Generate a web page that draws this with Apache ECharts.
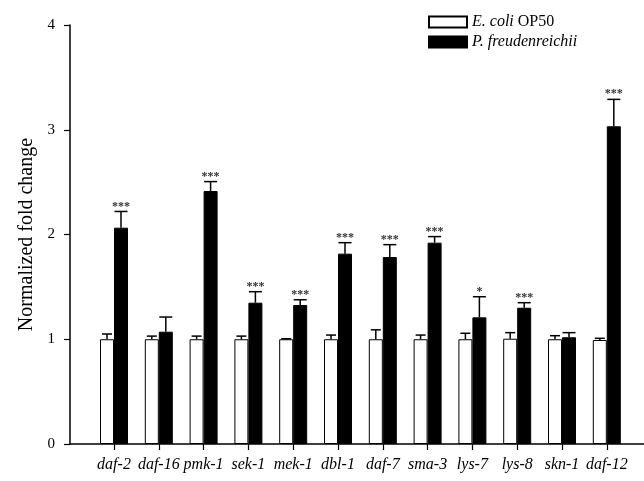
<!DOCTYPE html>
<html>
<head>
<meta charset="utf-8">
<script src="https://cdn.jsdelivr.net/npm/echarts@6/dist/echarts.min.js"></script>
<style>
html,body{margin:0;padding:0;background:#fff;}
#chart{width:644px;height:481px;}
</style>
</head>
<body>
<div id="chart"></div>
<script>
var categories = ['daf-2','daf-16','pmk-1','sek-1','mek-1','dbl-1','daf-7','sma-3','lys-7','lys-8','skn-1','daf-12'];
var ecoli = [1.0, 1.0, 1.0, 1.0, 1.0, 1.0, 1.0, 1.0, 1.0, 1.005, 1.0, 0.993];
var ecoliErr = [0.05, 0.03, 0.03, 0.03, 0.005, 0.04, 0.09, 0.04, 0.057, 0.058, 0.034, 0.016];
var pfreud = [2.065, 1.072, 2.415, 1.349, 1.327, 1.817, 1.785, 1.922, 1.209, 1.301, 1.019, 3.033];
var pfreudErr = [0.155, 0.14, 0.09, 0.105, 0.05, 0.105, 0.118, 0.058, 0.197, 0.048, 0.044, 0.257];
var significance = ['***', '', '***', '***', '***', '***', '***', '***', '*', '***', '', '***'];
var yTicks = [0, 1, 2, 3, 4];
var seriesNames = ['E. coli OP50', 'P. freudenreichii'];

var FONT = 'Liberation Serif';
var BAR_W = 14;

function errorSeries(name, values, errs, offsetSign, capHalf, labels) {
  return {
    type: 'custom',
    name: name,
    xAxisIndex: 0,
    yAxisIndex: 0,
    z: 5,
    data: values.map(function (v, i) { return [i, v, errs[i]]; }),
    renderItem: function (params, api) {
      var i = api.value(0), v = api.value(1), e = api.value(2);
      var base = api.coord([i, v]);
      var top = api.coord([i, v + e]);
      var x = base[0] + offsetSign * BAR_W / 2;
      var children = [
        { type: 'line', shape: { x1: x, y1: base[1], x2: x, y2: top[1] }, style: { stroke: '#000', lineWidth: 1.5 } },
        { type: 'line', shape: { x1: x - capHalf, y1: top[1], x2: x + capHalf, y2: top[1] }, style: { stroke: '#000', lineWidth: 1.5 } }
      ];
      if (labels && labels[params.dataIndex]) {
        children.push({
          type: 'text',
          style: {
            text: labels[params.dataIndex], x: x, y: top[1] + 1,
            textAlign: 'center', textVerticalAlign: 'bottom',
            font: 'bold 12px "' + FONT + '"', fill: '#333'
          }
        });
      }
      return { type: 'group', children: children };
    }
  };
}

var chart = echarts.init(document.getElementById('chart'));
chart.setOption({
  animation: false,
  backgroundColor: '#fff',
  grid: [
    { left: 91.6, right: 14.8, top: 25, bottom: 37 },
    { left: 70, right: 0, top: 25, bottom: 37 }
  ],
  legend: {
    data: seriesNames,
    orient: 'vertical',
    left: 423,
    top: 8,
    itemWidth: 38,
    itemHeight: 11,
    itemGap: 2,
    icon: 'rect',
    formatter: function (n) {
      return n === seriesNames[0] ? '{i|E. coli} {n|OP50}' : '{i|P. freudenreichii}';
    },
    textStyle: {
      fontFamily: FONT, fontSize: 16, color: '#000', lineHeight: 18,
      rich: {
        i: { fontFamily: FONT, fontSize: 16, fontStyle: 'italic', color: '#000', lineHeight: 18 },
        n: { fontFamily: FONT, fontSize: 16, color: '#000', lineHeight: 18 }
      }
    }
  },
  xAxis: [
    {
      type: 'category', gridIndex: 0, data: categories,
      axisLine: { show: false },
      axisTick: { show: true, alignWithLabel: true, length: 6, lineStyle: { color: '#000', width: 1.2 } },
      axisLabel: { fontFamily: FONT, fontSize: 16, fontStyle: 'italic', color: '#000', margin: 13, interval: 0 },
      splitLine: { show: false }
    },
    {
      type: 'value', gridIndex: 1, min: 0, max: 1,
      axisLine: { show: true, onZero: false, lineStyle: { color: '#000', width: 1.5 } },
      axisTick: { show: false }, axisLabel: { show: false }, splitLine: { show: false }
    }
  ],
  yAxis: [
    { type: 'value', gridIndex: 0, min: 0, max: 4, interval: 1, show: false, splitLine: { show: false } },
    {
      type: 'value', gridIndex: 1, min: yTicks[0], max: yTicks[yTicks.length - 1], interval: 1,
      name: 'Normalized fold change', nameLocation: 'middle', nameGap: 31,
      nameTextStyle: { fontFamily: FONT, fontSize: 20, color: '#000' },
      axisLine: { show: true, lineStyle: { color: '#000', width: 1.5 } },
      axisTick: { show: true, inside: false, length: 6, lineStyle: { color: '#000', width: 1.2 } },
      axisLabel: { fontFamily: FONT, fontSize: 15, color: '#000', margin: 15 },
      splitLine: { show: false }
    }
  ],
  series: [
    {
      name: seriesNames[0], type: 'bar', xAxisIndex: 0, yAxisIndex: 0,
      data: ecoli, barWidth: BAR_W, barGap: '0%',
      itemStyle: { color: '#fff', borderColor: '#000', borderWidth: 1 }
    },
    {
      name: seriesNames[1], type: 'bar', xAxisIndex: 0, yAxisIndex: 0,
      data: pfreud, barWidth: BAR_W, barGap: '0%',
      itemStyle: { color: '#000', borderColor: '#000', borderWidth: 1 }
    },
    errorSeries('err0', ecoli, ecoliErr, -1, 5, null),
    errorSeries('err1', pfreud, pfreudErr, 1, 6.5, significance)
  ]
});
</script>
</body>
</html>
